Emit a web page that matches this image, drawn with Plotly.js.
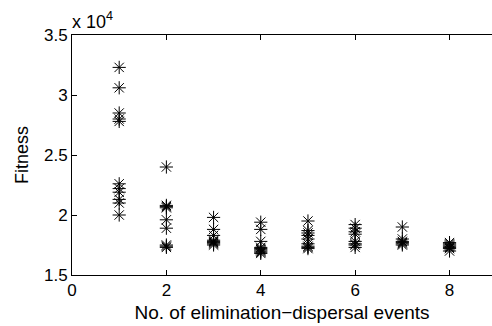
<!DOCTYPE html>
<html>
<head>
<meta charset="utf-8">
<script src="https://cdn.plot.ly/plotly-3.0.1.min.js"></script>
<style>html,body{margin:0;padding:0;background:#fff;overflow:hidden}#chart{width:492px;height:326px}</style>
</head>
<body>
<div id="chart"></div>
<script>
// Number of elimination-dispersal events
var events = [1, 2, 3, 4, 5, 6, 7, 8];
// Fitness values (actual values, axis shown in units of 10^4)
var fit1 = [32300, 30600, 28500, 28000, 27800, 22600, 22200, 21900, 21300, 21000, 20000];
var fit2 = [24000, 20800, 20700, 20600, 19600, 18900, 17500, 17400, 17300];
var fit3 = [19800, 18800, 18300, 17900, 17800, 17700, 17600, 17500];
var fit4 = [19400, 18800, 17800, 17300, 17200, 17100, 17000, 16900, 16800];
var fit5 = [19500, 18700, 18500, 18300, 18000, 17600, 17400, 17300, 17200];
var fit6 = [19200, 18900, 18600, 18400, 17800, 17600, 17500, 17300];
var fit7 = [19000, 18000, 17800, 17700, 17600, 17500];
var fit8 = [17700, 17600, 17500, 17400, 17300, 17200, 17000];
var yTickVals = [15000, 20000, 25000, 30000, 35000];
var yTickText = ["1.5", "2", "2.5", "3", "3.5"];
var xTickVals = [0, 2, 4, 6, 8];

var allFits = [fit1, fit2, fit3, fit4, fit5, fit6, fit7, fit8];
var xs = [], ys = [];
allFits.forEach(function (arr, i) {
  arr.forEach(function (v) { xs.push(events[i]); ys.push(v); });
});

var font = {family: "Liberation Sans, Arial, Helvetica, sans-serif", color: "#000"};

var trace = {
  x: xs, y: ys, type: "scatter", mode: "markers",
  marker: {symbol: "asterisk-open", size: 11, color: "#000", line: {color: "#000", width: 1}},
  hoverinfo: "none"
};

var layout = {
  width: 492, height: 326,
  margin: {l: 72, r: 0, t: 35, b: 51, pad: 0},
  paper_bgcolor: "#fff", plot_bgcolor: "#fff",
  showlegend: false,
  font: Object.assign({size: 17}, font),
  xaxis: {
    range: [0, 8.9], tickvals: xTickVals, ticks: "inside", ticklen: 5, tickcolor: "#000",
    showline: true, linecolor: "#000", linewidth: 1, mirror: "ticks", showgrid: false, zeroline: false,
    tickfont: Object.assign({size: 17}, font),
    title: {text: "No. of elimination\u2212dispersal events", font: Object.assign({size: 19}, font), standoff: 6}
  },
  yaxis: {
    range: [15000, 35000], tickvals: yTickVals, ticktext: yTickText, ticks: "inside", ticklen: 5, tickcolor: "#000",
    showline: true, linecolor: "#000", linewidth: 1, mirror: false, showgrid: false, zeroline: false,
    tickfont: Object.assign({size: 17}, font),
    title: {text: "Fitness", font: Object.assign({size: 18}, font), standoff: 10}
  },
  annotations: [{
    xref: "paper", yref: "paper", x: 0, y: 1, xanchor: "left", yanchor: "bottom",
    text: "x 10<sup>4</sup>", showarrow: false, font: Object.assign({size: 18}, font), xshift: -2, yshift: 1
  }]
};

Plotly.newPlot("chart", [trace], layout, {displayModeBar: false, staticPlot: true});
</script>
</body>
</html>
